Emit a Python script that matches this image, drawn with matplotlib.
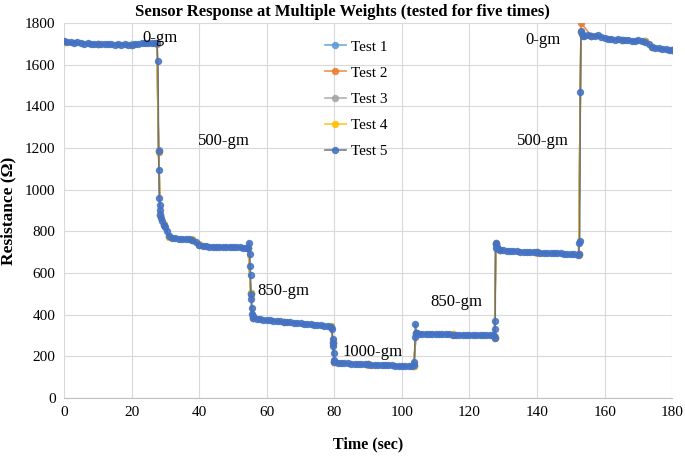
import matplotlib.pyplot as plt

plt.rcParams["font.family"] = ["Liberation Serif", "DejaVu Serif"]

# sampled times (s) for test 5, the series drawn on top
time_s = [
    0, 1, 2, 3, 4, 5, 6, 7, 8, 9, 10, 11, 12, 13, 14, 15, 16, 17, 18, 19, 20, 21, 22, 23, 24, 25, 26, 27,
    27.5, 27.8, 28.0, 28.1, 28.2, 28.3, 28.4, 28.5, 28.7, 29, 29.5, 30, 30.5, 31,
    32, 33, 34, 35, 36, 37, 38, 39, 40, 41, 42, 43, 44, 45, 46, 47, 48, 49, 50, 51, 52, 53, 54,
    54.5, 54.8, 55.0, 55.1, 55.2, 55.3, 55.4, 55.5, 55.6, 55.8,
    56, 57, 58, 59, 60, 61, 62, 63, 64, 65, 66, 67, 68, 69, 70, 71, 72, 73, 74, 75, 76, 77, 78, 79,
    79.3, 79.5, 79.6, 79.7, 79.8, 79.9,
    80, 81, 82, 83, 84, 85, 86, 87, 88, 89, 90, 91, 92, 93, 94, 95, 96, 97, 98, 99, 100, 101, 102, 103,
    103.5, 103.7, 103.9, 104.0, 104.2, 104.5,
    105, 106, 107, 108, 109, 110, 111, 112, 113, 114, 115, 116, 117, 118, 119, 120, 121, 122, 123, 124, 125, 126, 127,
    127.2, 127.4, 127.5, 127.6, 127.7, 127.8, 127.9, 128.2, 128.5,
    129, 130, 131, 132, 133, 134, 135, 136, 137, 138, 139, 140, 141, 142, 143, 144, 145, 146, 147, 148, 149, 150, 151, 152,
    152.3, 152.5, 152.6, 152.8, 153.0, 153.2, 153.5,
    154, 155, 156, 157, 158, 159, 160, 161, 162, 163, 164, 165, 166, 167, 168, 169, 170, 171, 172, 173, 174, 175, 176, 177, 178, 179, 180,
]
test_5 = [
    1712, 1708, 1706, 1704, 1706, 1702, 1700, 1703, 1701, 1699, 1700, 1698, 1700, 1697, 1699, 1696, 1698, 1695, 1697, 1694, 1696, 1698, 1700, 1702, 1704, 1702, 1704, 1705,
    1702, 1615, 1185, 1095, 960, 925, 900, 880, 865, 850, 832, 822, 800, 775,
    768, 766, 765, 764, 763, 762, 760, 748, 735, 730, 728, 727, 727, 726, 726, 725, 725, 724, 724, 723, 723, 722, 722,
    720, 745, 690, 635, 590, 500, 475, 430, 405, 392,
    385, 380, 378, 376, 374, 372, 371, 369, 368, 366, 365, 363, 362, 360, 358, 357, 355, 353, 352, 350, 349, 347, 346, 343,
    330, 282, 265, 250, 215, 180,
    172, 170, 168, 167, 166, 165, 164, 163, 162, 161, 161, 160, 159, 158, 158, 157, 156, 156, 155, 155, 154, 153, 153, 152,
    156, 175, 295, 355, 312, 310,
    309, 308, 308, 307, 307, 306, 306, 305, 305, 305, 304, 304, 303, 303, 303, 302, 302, 302, 301, 301, 300, 300, 300,
    296, 290, 330, 370, 720, 745, 738, 725, 715,
    712, 709, 707, 706, 705, 704, 703, 702, 701, 700, 700, 699, 698, 698, 697, 696, 695, 695, 694, 693, 692, 691, 690, 688,
    690, 745, 755, 1470, 1760, 1748, 1738,
    1735, 1742, 1738, 1735, 1740, 1732, 1728, 1725, 1722, 1718, 1722, 1720, 1716, 1718, 1714, 1712, 1716, 1714, 1710, 1700, 1685, 1680, 1678, 1676, 1674, 1672, 1668,
]

# tests 1-4 lie under test 5, only their key points are kept
time_key = [0, 10, 20, 27.5, 28.0, 28.5, 29.5, 31, 38, 40, 54.5, 55.3, 56, 65, 79, 79.6, 80, 90,
            103.5, 104.2, 115, 127.4, 127.8, 129, 140, 152.3, 153.0, 156, 165, 172, 174, 180]
test_1 = [1710, 1700, 1697, 1703, 1190, 882, 832, 776, 760, 736, 721, 505, 386, 365, 344, 268, 173, 161,
          155, 314, 305, 291, 742, 711, 699, 689, 1755, 1736, 1719, 1713, 1685, 1670]
test_2 = [1708, 1699, 1696, 1701, 1180, 878, 830, 773, 758, 734, 720, 500, 384, 364, 342, 265, 171, 160,
          154, 311, 304, 290, 740, 710, 698, 688, 1800, 1738, 1720, 1712, 1683, 1668]
test_3 = [1711, 1701, 1695, 1702, 1186, 880, 831, 775, 759, 735, 722, 502, 385, 366, 343, 266, 172, 162,
          156, 312, 306, 292, 741, 712, 700, 690, 1758, 1737, 1718, 1714, 1684, 1669]
test_4 = [1709, 1700, 1696, 1704, 1184, 879, 833, 774, 761, 737, 721, 503, 387, 365, 345, 267, 174, 161,
          155, 313, 305, 291, 743, 711, 699, 689, 1756, 1739, 1719, 1712, 1686, 1671]

labels = ["Test 1", "Test 2", "Test 3", "Test 4", "Test 5"]
line_colors = ["#5B9BD5", "#ED7D31", "#A5A5A5", "#FFC000", "#5E6878"]
marker_colors = ["#5B9BD5", "#ED7D31", "#A5A5A5", "#FFC000", "#4472C4"]

annotations = [("0-gm", 28.4, 1728), ("500-gm", 47.4, 1234), ("850-gm", 64.8, 514),
               ("1000-gm", 91.2, 221), ("850-gm", 116.0, 461), ("500-gm", 141.8, 1234),
               ("0-gm", 141.8, 1718)]

fig = plt.figure(figsize=(6.85, 4.58), dpi=100)
ax = fig.add_axes([0.0934, 0.131, 0.888, 0.819])

series = [(time_key, test_1), (time_key, test_2), (time_key, test_3), (time_key, test_4), (time_s, test_5)]
for (t, r), lab, lc, mc in zip(series, labels, line_colors, marker_colors):
    ax.plot(t, r, "-o", color=lc, lw=1.2, alpha=0.85, ms=4.3,
            markerfacecolor=mc, markeredgecolor=mc, label=lab)

for txt, x, y in annotations:
    ax.text(x, y, txt, ha="center", va="center", fontsize=12)

ax.set_xlim(0, 180)
ax.set_ylim(0, 1800)
ax.set_xticks(range(0, 181, 20))
ax.set_yticks(range(0, 1801, 200))
ax.grid(True, color="#D9D9D9", lw=0.8)
ax.set_axisbelow(True)
for side in ["top", "right", "left"]:
    ax.spines[side].set_visible(False)
ax.spines["bottom"].set_color("#BFBFBF")
ax.tick_params(length=0, labelsize=11, pad=6)

fig.text(0.5, 0.974, "Sensor Response at Multiple Weights (tested for five times)",
         ha="center", va="center", fontsize=12, fontweight="bold")
ax.set_xlabel("Time (sec)", fontsize=11.5, fontweight="bold", labelpad=12)
ax.set_ylabel("Resistance (Ω)", fontsize=12.5, fontweight="bold", labelpad=6)

ax.legend(loc="upper left", bbox_to_anchor=(0.454, 0.943), bbox_transform=fig.transFigure,
          frameon=False, fontsize=11, handlelength=1.4, handletextpad=0.35, labelspacing=0.82)

fig.savefig("out.png", dpi=100)
